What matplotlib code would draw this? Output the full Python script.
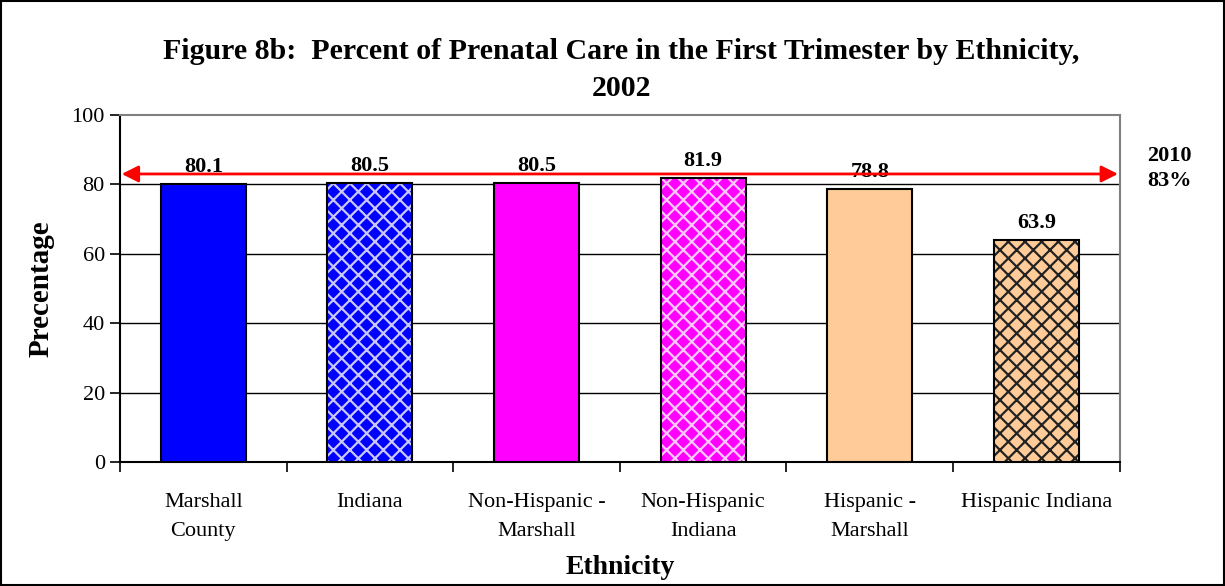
import matplotlib
matplotlib.use("Agg")
import matplotlib.pyplot as plt
from matplotlib.patches import Rectangle

categories = ["Marshall\nCounty", "Indiana", "Non-Hispanic -\nMarshall", "Non-Hispanic\nIndiana", "Hispanic -\nMarshall", "Hispanic Indiana"]
values = [80.1, 80.5, 80.5, 81.9, 78.8, 63.9]
colors = ["#0000FF", "#0000FF", "#FF00FF", "#FF00FF", "#FFCC99", "#FFCC99"]
hatches = [None, "xx", None, "xx", None, "xx"]
hatch_colors = [None, "#C8C8FF", None, "#FFC8FF", None, "#222222"]
target = 83
yticks = [0, 20, 40, 60, 80, 100]

plt.rcParams['font.family'] = ['Liberation Serif', 'DejaVu Serif']
plt.rcParams['hatch.linewidth'] = 1.6

fig = plt.figure(figsize=(12.25, 5.86), dpi=100)
ax = fig.add_axes([0.098, 0.2116, 0.816, 0.5922])

x = list(range(len(values)))
for i, (v, c, h, hc) in enumerate(zip(values, colors, hatches, hatch_colors)):
    if h:
        ax.bar(i, v, width=0.51, color=c, edgecolor=hc, hatch=h, linewidth=0, zorder=3)
    else:
        ax.bar(i, v, width=0.51, color=c, linewidth=0, zorder=3)
    ax.bar(i, v, width=0.51, fill=False, edgecolor="black", linewidth=1.5, zorder=4)
    ax.text(i, v + 2.0, f"{v:.1f}", ha="center", va="bottom", fontsize=16, fontweight="bold", zorder=5)

ax.set_xlim(-0.5, len(values) - 0.5)
ax.set_ylim(0, 100)
ax.set_yticks(yticks)
ax.set_yticklabels([str(t) for t in yticks], fontsize=16)
for t in yticks[1:-1]:
    ax.axhline(t, color="black", linewidth=1, zorder=1)

ax.set_xticks([i + 0.5 for i in range(-1, len(values))], minor=False)
ax.set_xticklabels([])
ax.tick_params(axis="x", which="major", length=7, direction="out", width=1.2)
ax.set_xticks(x, minor=True)
ax.set_xticklabels(categories, minor=True, fontsize=16, linespacing=1.75)
ax.tick_params(axis="x", which="minor", length=0, pad=22)
ax.tick_params(axis="y", length=7, direction="out", width=1.2, pad=4)

ax.spines["top"].set_color("gray")
ax.spines["right"].set_color("gray")
ax.spines["top"].set_linewidth(1.5)
ax.spines["right"].set_linewidth(1.5)
ax.spines["left"].set_linewidth(1.5)
ax.spines["bottom"].set_linewidth(1.5)

ax.annotate("", xy=(-0.49, target), xytext=(len(values) - 0.51, target),
            arrowprops=dict(arrowstyle="<|-|>", color="red", lw=2, mutation_scale=25, shrinkA=0, shrinkB=0), zorder=6)
ax.text(len(values) - 0.5 + 0.3, target + 1.5, "2010\n83%", ha="center", va="center", fontsize=16, fontweight="bold", linespacing=1.35)

ax.set_ylabel("Precentage", fontsize=21, fontweight="bold", labelpad=12)
ax.set_xlabel("Ethnicity", fontsize=20, fontweight="bold", labelpad=10)
fig.text(0.507, 0.8805, "Figure 8b:  Percent of Prenatal Care in the First Trimester by Ethnicity,\n2002",
         ha="center", va="center", fontsize=21.5, fontweight="bold", linespacing=1.5)

fig.patches.append(Rectangle((0.001, 0.001), 0.998, 0.997, transform=fig.transFigure, fill=False, edgecolor="black", linewidth=1.5))

fig.savefig("out.png", dpi=100)
